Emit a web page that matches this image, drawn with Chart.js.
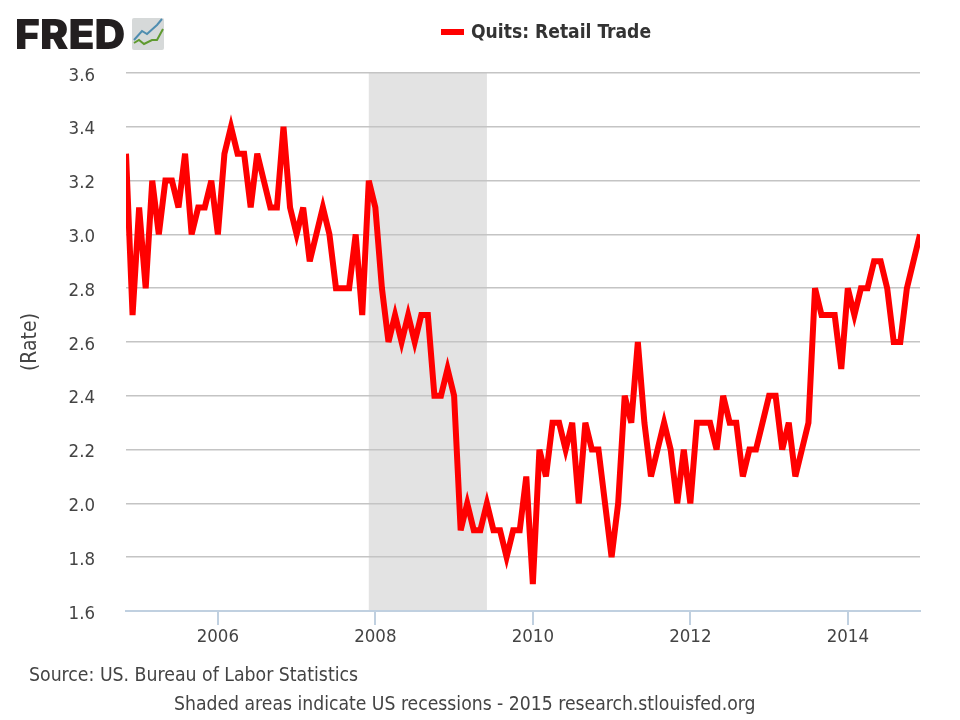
<!DOCTYPE html>
<html>
<head>
<meta charset="utf-8">
<title>Quits: Retail Trade</title>
<script src="https://cdn.jsdelivr.net/npm/chart.js@4/dist/chart.umd.min.js"></script>
<style>
  body { margin: 0; background: #fff; font-family: "DejaVu Sans Condensed", "DejaVu Sans", sans-serif; color: #444; }
  #lienzo { position: relative; width: 960px; height: 720px; overflow: hidden; }
  canvas { position: absolute; left: 0; top: 0; }
  .texto { position: absolute; white-space: nowrap; }
  #logo { left: 15px; top: 9px; font: 900 41px/50px Inter, "Liberation Sans", sans-serif; color: #231f20; transform: scaleX(1.04); transform-origin: left; }
  #icono { position: absolute; left: 132px; top: 18px; }
  #marca { left: 441px; top: 29px; width: 23px; height: 6px; background: #ff0000; position: absolute; }
  #leyenda { left: 471px; top: 20px; font-weight: bold; font-size: 19.1px; line-height: 24px; color: #333; }
  #fuente { left: 29px; top: 663px; font-size: 19.3px; line-height: 24px; }
  #nota { left: 174px; top: 692px; font-size: 19.2px; line-height: 24px; }
</style>
</head>
<body>
<div id="lienzo">
  <canvas id="chartQuits" width="960" height="720"></canvas>
  <div class="texto" id="logo">FRED</div>
  <svg id="icono" width="32" height="32" viewBox="0 0 32 32">
    <rect x="0" y="0" width="32" height="32" rx="2" fill="#d6d9d9"/>
    <polyline points="2,22 10,13 15,16 25,7 30,1" fill="none" stroke="#4f8db0" stroke-width="2"/>
    <polyline points="2,25 7,22 12,26 20,22 25,22 31,11" fill="none" stroke="#5f9a2f" stroke-width="2"/>
  </svg>
  <div id="marca"></div>
  <div class="texto" id="leyenda">Quits: Retail Trade</div>
  <div class="texto" id="fuente">Source: US. Bureau of Labor Statistics</div>
  <div class="texto" id="nota">Shaded areas indicate US recessions - 2015 research.stlouisfed.org</div>
</div>
<script>
// tasa mensual, nov 2004 a dic 2014
const tasaQuits = [
  3.3, 2.7,
  3.1, 2.8, 3.2, 3.0, 3.2, 3.2, 3.1, 3.3, 3.0, 3.1, 3.1, 3.2,
  3.0, 3.3, 3.4, 3.3, 3.3, 3.1, 3.3, 3.2, 3.1, 3.1, 3.4, 3.1,
  3.0, 3.1, 2.9, 3.0, 3.1, 3.0, 2.8, 2.8, 2.8, 3.0, 2.7, 3.2,
  3.1, 2.8, 2.6, 2.7, 2.6, 2.7, 2.6, 2.7, 2.7, 2.4, 2.4, 2.5,
  2.4, 1.9, 2.0, 1.9, 1.9, 2.0, 1.9, 1.9, 1.8, 1.9, 1.9, 2.1,
  1.7, 2.2, 2.1, 2.3, 2.3, 2.2, 2.3, 2.0, 2.3, 2.2, 2.2, 2.0,
  1.8, 2.0, 2.4, 2.3, 2.6, 2.3, 2.1, 2.2, 2.3, 2.2, 2.0, 2.2,
  2.0, 2.3, 2.3, 2.3, 2.2, 2.4, 2.3, 2.3, 2.1, 2.2, 2.2, 2.3,
  2.4, 2.4, 2.2, 2.3, 2.1, 2.2, 2.3, 2.8, 2.7, 2.7, 2.7, 2.5,
  2.8, 2.7, 2.8, 2.8, 2.9, 2.9, 2.8, 2.6, 2.6, 2.8, 2.9, 3.0
];
const anioInicio = 2004 + 10 / 12;
const anioFin = 2014 + 11 / 12;
const recesion = [2007 + 11 / 12, 2009 + 5 / 12];
const ticksY = { min: 1.6, max: 3.6, paso: 0.2 };

const puntos = tasaQuits.map((v, i) => ({ x: anioInicio + i / 12, y: v }));

// franja gris debajo de la grilla
const franjaRecesion = {
  id: "franjaRecesion",
  beforeDraw(chart) {
    const { ctx, chartArea, scales } = chart;
    const x0 = scales.x.getPixelForValue(recesion[0]);
    const x1 = scales.x.getPixelForValue(recesion[1]);
    ctx.save();
    ctx.fillStyle = "#e3e3e3";
    ctx.fillRect(x0, chartArea.top, x1 - x0, chartArea.bottom - chartArea.top);
    ctx.restore();
  },
  // los picos muy agudos quedan cortados, como en el original
  beforeDatasetsDraw(chart) {
    chart.ctx.miterLimit = 5;
  }
};

const fuenteEjes = { family: "'DejaVu Sans Condensed', 'DejaVu Sans', sans-serif", size: 18.5 };

new Chart(document.getElementById("chartQuits").getContext("2d"), {
  type: "line",
  data: {
    datasets: [
      {
        label: "Quits: Retail Trade",
        data: puntos,
        borderColor: "#ff0000",
        borderWidth: 6,
        borderJoinStyle: "miter",
        pointRadius: 0,
        tension: 0
      }
    ]
  },
  options: {
    responsive: false,
    animation: false,
    layout: { padding: { top: 73, right: 40, left: 0, bottom: 0 } },
    plugins: {
      legend: { display: false },
      tooltip: { enabled: false }
    },
    scales: {
      x: {
        type: "linear",
        min: anioInicio,
        max: anioFin,
        afterFit: scale => { scale.height = 109; },
        grid: { drawOnChartArea: false, drawTicks: true, tickLength: 14, color: "#c0d0e0", lineWidth: 2 },
        border: { color: "#c0d0e0", width: 2 },
        ticks: {
          stepSize: 2,
          includeBounds: false,
          maxRotation: 0,
          padding: 1,
          color: "#444",
          font: fuenteEjes,
          callback: v => String(v)
        }
      },
      y: {
        min: ticksY.min,
        max: ticksY.max,
        afterFit: scale => { scale.width = 126; },
        grid: { color: "#c4c4c4", lineWidth: 1.6, drawTicks: false },
        border: { display: false },
        title: {
          display: true,
          text: "(Rate)",
          color: "#444",
          font: { ...fuenteEjes, size: 21 },
          padding: { top: 18, bottom: 0 }
        },
        ticks: {
          stepSize: ticksY.paso,
          padding: 31,
          color: "#444",
          font: { ...fuenteEjes, lineHeight: 0.3 },
          // linea vacia arriba: baja el texto unos 3px respecto a la grilla
          callback: v => ["", v.toFixed(1)]
        }
      }
    }
  },
  plugins: [franjaRecesion]
});
</script>
</body>
</html>
